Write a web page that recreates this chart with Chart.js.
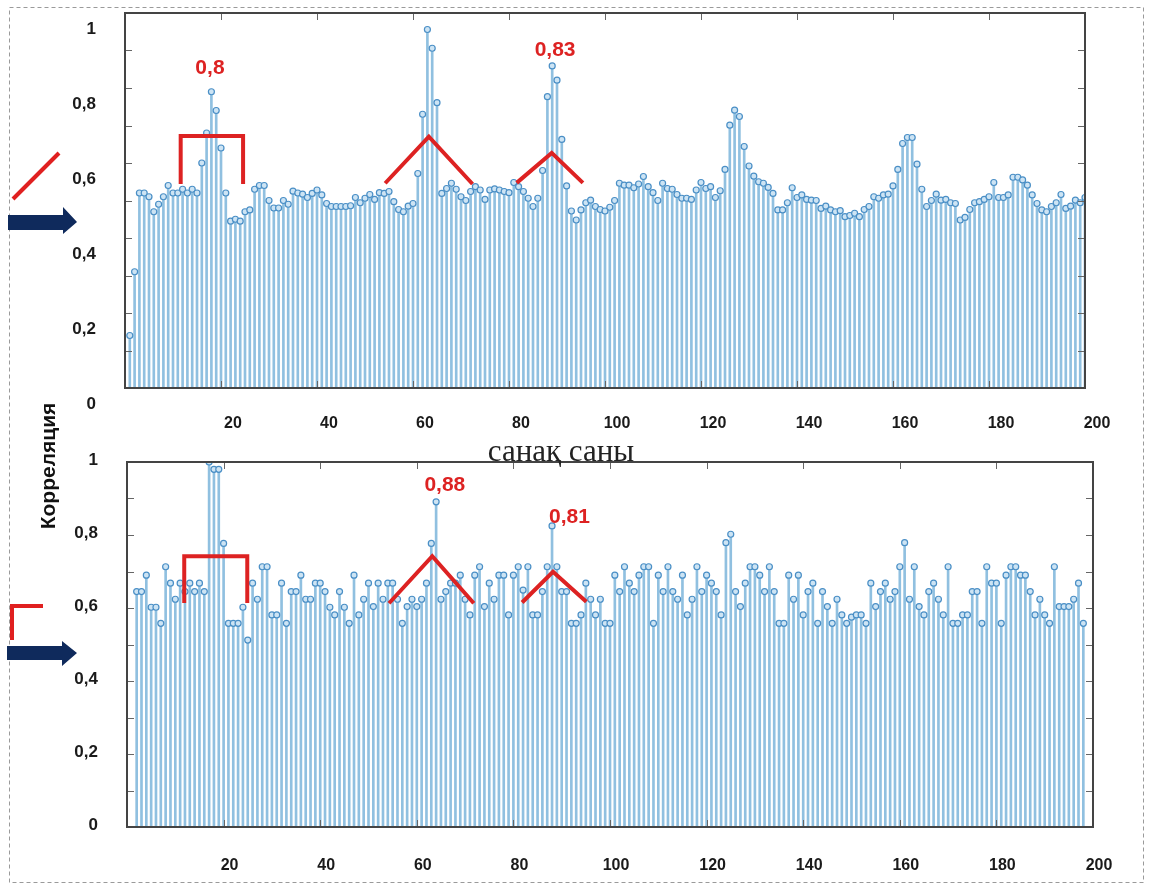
<!DOCTYPE html>
<html>
<head>
<meta charset="utf-8">
<script src="https://cdn.jsdelivr.net/npm/chart.js@4.4.1/dist/chart.umd.min.js"></script>
<style>
  html, body { margin: 0; padding: 0; background: #fff; }
  #page { position: relative; width: 1152px; height: 887px; overflow: hidden; }
  canvas { position: absolute; left: 0; }
  #topChart { top: 0; }
  #botChart { top: 445px; }
  #overlay { position: absolute; left: 0; top: 0; pointer-events: none; }
</style>
</head>
<body>
<div id="page">
  <canvas id="topChart" width="1152" height="445"></canvas>
  <canvas id="botChart" width="1152" height="442"></canvas>
  <svg id="overlay" width="1152" height="887">
    <rect x="9.5" y="7.5" width="1134" height="875" fill="none" stroke="#9a9a9a" stroke-width="1" stroke-dasharray="4,3"/>
    <polygon points="8,215 63,215 63,207 77,222 63,234 63,230 8,230" fill="#0f2a5c"/>
    <polygon points="7,646 62,646 62,641 77,653 62,666 62,660 7,660" fill="#0f2a5c"/>
    <line x1="13" y1="199" x2="59" y2="153" stroke="#e02020" stroke-width="4"/>
    <path d="M12,640 L12,606 L43,606" fill="none" stroke="#e02020" stroke-width="4"/>
    <text transform="translate(55,466) rotate(-90)" text-anchor="middle"
          font-family="Liberation Sans, Arial, sans-serif" font-weight="bold" font-size="21" fill="#111">Корреляция</text>
    <text x="561" y="461" text-anchor="middle"
          font-family="Liberation Serif, Times New Roman, serif" font-size="31" fill="#222">санақ саны</text>
  </svg>
</div>
<script>
// correlation per sample, top panel (samples 1..200)
const topCorr = [
  0.14, 0.31, 0.52, 0.52, 0.51, 0.47, 0.49, 0.51, 0.54, 0.52,
  0.52, 0.53, 0.52, 0.53, 0.52, 0.60, 0.68, 0.79, 0.74, 0.64,
  0.52, 0.445, 0.45, 0.445, 0.47, 0.475, 0.53, 0.54, 0.54, 0.50,
  0.48, 0.48, 0.50, 0.49, 0.525, 0.52, 0.517, 0.508, 0.519, 0.528,
  0.515, 0.492, 0.484, 0.484, 0.484, 0.484, 0.486, 0.508, 0.494, 0.506,
  0.516, 0.503, 0.521, 0.519, 0.524, 0.497, 0.476, 0.47, 0.485, 0.492,
  0.572, 0.73, 0.956, 0.906, 0.761, 0.519, 0.532, 0.546, 0.53, 0.51,
  0.50, 0.524, 0.537, 0.528, 0.503, 0.528, 0.531, 0.528, 0.524, 0.521,
  0.548, 0.537, 0.524, 0.506, 0.484, 0.506, 0.58, 0.777, 0.859, 0.821,
  0.663, 0.539, 0.472, 0.448, 0.475, 0.494, 0.501, 0.484, 0.476, 0.472,
  0.482, 0.50, 0.546, 0.541, 0.541, 0.534, 0.544, 0.564, 0.537, 0.521,
  0.50, 0.546, 0.532, 0.53, 0.516, 0.506, 0.506, 0.503, 0.528, 0.548,
  0.532, 0.537, 0.508, 0.526, 0.583, 0.701, 0.741, 0.724, 0.644, 0.592,
  0.565, 0.55, 0.546, 0.535, 0.519, 0.475, 0.475, 0.494, 0.534, 0.508,
  0.515, 0.503, 0.501, 0.50, 0.479, 0.485, 0.475, 0.47, 0.473, 0.457,
  0.46, 0.466, 0.457, 0.476, 0.484, 0.51, 0.506, 0.515, 0.517, 0.539,
  0.583, 0.652, 0.668, 0.668, 0.597, 0.53, 0.484, 0.50, 0.517, 0.501,
  0.503, 0.494, 0.492, 0.448, 0.455, 0.476, 0.494, 0.497, 0.503, 0.51,
  0.548, 0.508, 0.508, 0.515, 0.562, 0.562, 0.555, 0.541, 0.515, 0.492,
  0.475, 0.47, 0.484, 0.494, 0.516, 0.479, 0.485, 0.501, 0.494, 0.508
];
const topStart = 1;

// correlation per sample, bottom panel (samples 2..198)
const botCorr = [
  0.645, 0.645, 0.69, 0.602, 0.602, 0.558, 0.713, 0.668, 0.624, 0.668,
  0.645, 0.668, 0.645, 0.668, 0.645, 1.0, 0.98, 0.98, 0.777, 0.558,
  0.558, 0.558, 0.602, 0.512, 0.668, 0.624, 0.713, 0.713, 0.581, 0.581,
  0.668, 0.558, 0.645, 0.645, 0.69, 0.624, 0.624, 0.668, 0.668, 0.645,
  0.602, 0.581, 0.645, 0.602, 0.558, 0.69, 0.581, 0.624, 0.668, 0.604,
  0.668, 0.624, 0.668, 0.668, 0.624, 0.558, 0.604, 0.624, 0.604, 0.624,
  0.668, 0.777, 0.891, 0.624, 0.645, 0.668, 0.668, 0.69, 0.624, 0.581,
  0.69, 0.713, 0.604, 0.668, 0.624, 0.69, 0.69, 0.581, 0.69, 0.713,
  0.649, 0.713, 0.581, 0.581, 0.645, 0.713, 0.825, 0.713, 0.645, 0.645,
  0.558, 0.558, 0.581, 0.668, 0.624, 0.581, 0.624, 0.558, 0.558, 0.69,
  0.645, 0.713, 0.668, 0.645, 0.69, 0.713, 0.713, 0.558, 0.69, 0.645,
  0.713, 0.645, 0.624, 0.69, 0.581, 0.624, 0.713, 0.645, 0.69, 0.668,
  0.645, 0.581, 0.779, 0.802, 0.645, 0.604, 0.668, 0.713, 0.713, 0.69,
  0.645, 0.713, 0.645, 0.558, 0.558, 0.69, 0.624, 0.69, 0.581, 0.645,
  0.668, 0.558, 0.645, 0.604, 0.558, 0.624, 0.581, 0.558, 0.575, 0.581,
  0.581, 0.558, 0.668, 0.604, 0.645, 0.668, 0.624, 0.645, 0.713, 0.779,
  0.624, 0.713, 0.604, 0.581, 0.645, 0.668, 0.624, 0.581, 0.713, 0.558,
  0.558, 0.581, 0.581, 0.645, 0.645, 0.558, 0.713, 0.668, 0.668, 0.558,
  0.69, 0.713, 0.713, 0.69, 0.69, 0.645, 0.581, 0.624, 0.581, 0.558,
  0.713, 0.604, 0.604, 0.604, 0.624, 0.668, 0.558
];
const botStart = 2;

// axis ticks
const yMajor = [0, 0.2, 0.4, 0.6, 0.8, 1];
const yMinor = [0.1, 0.2, 0.3, 0.4, 0.5, 0.6, 0.7, 0.8, 0.9];
const xMinor = [20, 40, 60, 80, 100, 120, 140, 160, 180];

// red hand-drawn marks, in data coordinates
const topMarks = [
  [[11.6, 0.544], [11.6, 0.672], [24.6, 0.672], [24.6, 0.544]],
  [[54.2, 0.546], [63.3, 0.670], [72.4, 0.544]],
  [[81.6, 0.547], [88.9, 0.627], [95.4, 0.547]]
];
const topNotes = [{ text: '0,8', x: 17.7, y: 0.853 }, { text: '0,83', x: 89.6, y: 0.901 }];
const botMarks = [
  [[11.85, 0.614], [11.85, 0.742], [24.9, 0.742], [24.9, 0.614]],
  [[54.25, 0.613], [63.2, 0.742], [71.8, 0.613]],
  [[81.8, 0.615], [88.2, 0.699], [95.1, 0.617]]
];
const botNotes = [{ text: '0,88', x: 65.8, y: 0.937 }, { text: '0,81', x: 91.6, y: 0.85 }];

const STEM = '#90c0e0';
const MARK_EDGE = '#4a8fc6';
const MARK_FILL = '#cde4f4';
const RED = '#dd2222';
const FONT = 'Liberation Sans, Arial, sans-serif';

const framePlugin = {
  id: 'frame',
  afterDatasetsDraw(chart, args, opts) {
    const { ctx, chartArea: a, scales: { x, y } } = chart;
    ctx.save();
    // inner tick marks, MATLAB style
    ctx.strokeStyle = '#666';
    ctx.lineWidth = 1;
    ctx.beginPath();
    yMinor.forEach(v => {
      const py = Math.round(y.getPixelForValue(v)) + 0.5;
      ctx.moveTo(a.left, py); ctx.lineTo(a.left + 7, py);
      ctx.moveTo(a.right, py); ctx.lineTo(a.right - 7, py);
    });
    xMinor.forEach(v => {
      const px = Math.round(x.getPixelForValue(v)) + 0.5;
      ctx.moveTo(px, a.top); ctx.lineTo(px, a.top + 7);
      ctx.moveTo(px, a.bottom); ctx.lineTo(px, a.bottom - 7);
    });
    ctx.stroke();
    // axes box
    ctx.strokeStyle = '#444';
    ctx.lineWidth = 2;
    ctx.strokeRect(a.left, a.top, a.right - a.left, a.bottom - a.top);

    // red annotations
    ctx.strokeStyle = RED;
    ctx.lineWidth = 4;
    ctx.lineJoin = 'miter';
    opts.marks.forEach(pts => {
      ctx.beginPath();
      pts.forEach(([vx, vy], i) => {
        const px = x.getPixelForValue(vx), py = y.getPixelForValue(vy);
        if (i === 0) ctx.moveTo(px, py); else ctx.lineTo(px, py);
      });
      ctx.stroke();
    });
    ctx.fillStyle = RED;
    ctx.font = 'bold 21px ' + FONT;
    ctx.textAlign = 'center';
    ctx.textBaseline = 'middle';
    opts.notes.forEach(n => {
      ctx.fillText(n.text, x.getPixelForValue(n.x), y.getPixelForValue(n.y));
    });
    ctx.restore();
  }
};

function fmt(v) {
  if (v === 0) return '0';
  if (v === 1) return '1';
  return v.toFixed(1).replace('.', ',');
}

function makeChart(id, values, start, cfg) {
  const pts = values.map((v, i) => ({ x: start + i, y: v }));
  return new Chart(document.getElementById(id), {
    type: 'bar',
    data: {
      datasets: [
        {
          type: 'line',
          data: pts,
          showLine: false,
          pointStyle: 'circle',
          pointRadius: 3,
          pointBorderWidth: 1.2,
          pointBorderColor: MARK_EDGE,
          pointBackgroundColor: MARK_FILL,
          order: 0
        },
        {
          type: 'bar',
          data: pts,
          backgroundColor: STEM,
          barThickness: 2,
          order: 1
        }
      ]
    },
    options: {
      responsive: false,
      animation: false,
      devicePixelRatio: 1,
      layout: { padding: { top: cfg.top, right: cfg.right, left: 0, bottom: 0 } },
      plugins: {
        legend: { display: false },
        tooltip: { enabled: false },
        frame: { marks: cfg.marks, notes: cfg.notes }
      },
      scales: {
        x: {
          type: 'linear',
          min: 0,
          max: 200,
          offset: false,
          grid: { display: false, drawTicks: false },
          border: { display: false },
          afterBuildTicks: s => { s.ticks = xMinor.concat([200]).map(v => ({ value: v })); },
          afterFit: s => { s.height = cfg.xHeight; s.paddingLeft = 0; s.paddingRight = 0; },
          ticks: {
            maxRotation: 0,
            autoSkip: false,
            padding: cfg.xPad,
            labelOffset: cfg.xOffset,
            color: '#1a1a1a',
            font: { family: FONT, size: 16, weight: 'bold' }
          }
        },
        y: {
          min: 0,
          max: 1,
          grid: { display: false, drawTicks: false },
          border: { display: false },
          afterBuildTicks: s => { s.ticks = yMajor.map(v => ({ value: v })); },
          afterFit: s => { s.width = cfg.yWidth; s.paddingTop = 0; s.paddingBottom = 0; },
          ticks: {
            padding: 29,
            labelOffset: cfg.yOffset,
            color: '#1a1a1a',
            font: { family: FONT, size: 17, weight: 'bold' },
            callback: v => fmt(v)
          }
        }
      }
    },
    plugins: [framePlugin]
  });
}

makeChart('topChart', topCorr, topStart, {
  top: 13, right: 67, yWidth: 125, xHeight: 57, xPad: 26, xOffset: 12, yOffset: 16,
  marks: topMarks, notes: topNotes
});
makeChart('botChart', botCorr, botStart, {
  top: 17, right: 59, yWidth: 127, xHeight: 60, xPad: 29, xOffset: 6, yOffset: -2,
  marks: botMarks, notes: botNotes
});
</script>
</body>
</html>
